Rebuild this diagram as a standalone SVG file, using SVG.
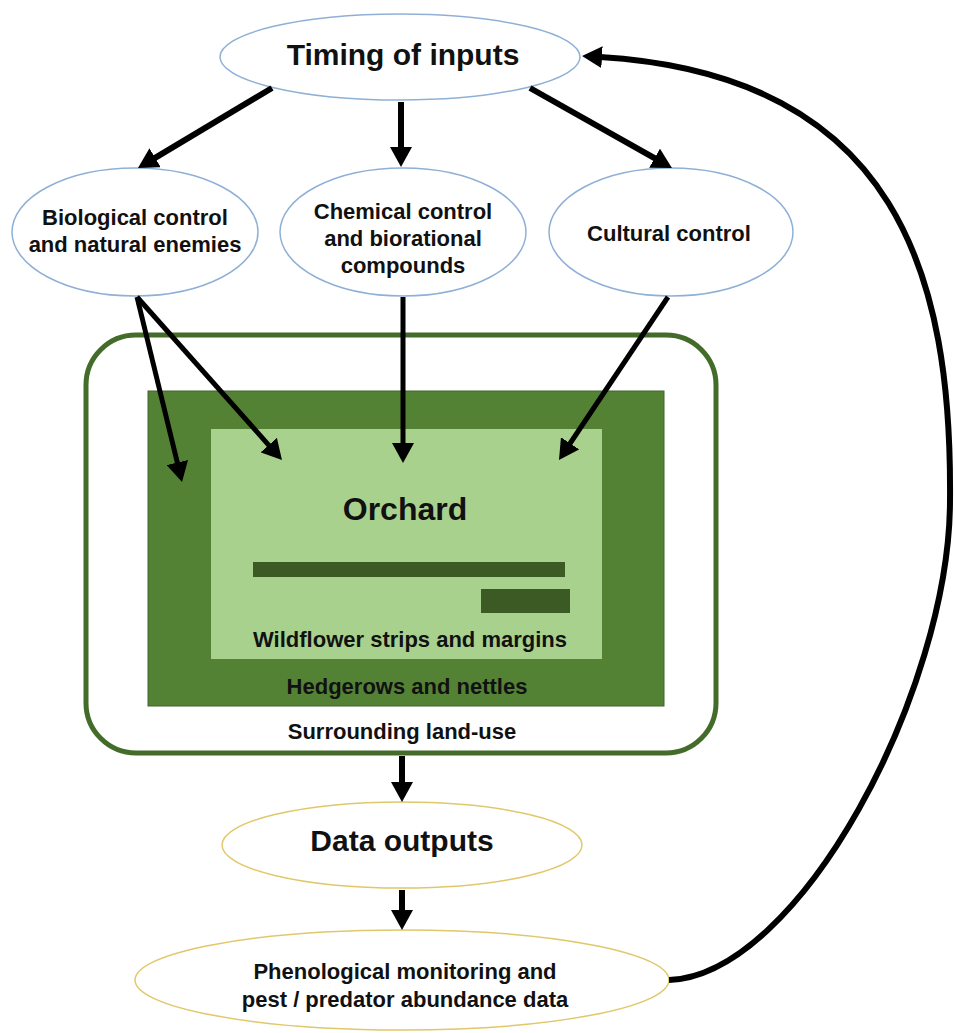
<svg xmlns="http://www.w3.org/2000/svg" width="955" height="1033" viewBox="0 0 955 1033">
<style>
  text { font-family: "Liberation Sans", Arial, sans-serif; font-weight: bold; fill: #111; text-anchor: middle; }
  .big { font-size: 30px; }
  .lbl { font-size: 22px; }
  .blue { fill: #fff; stroke: #8fb0d6; stroke-width: 1.5; }
  .gold { fill: #fff; stroke: #e0c86a; stroke-width: 1.5; }
  .conn { fill: none; stroke: #000; stroke-width: 6; marker-end: url(#ah); }
  .thin { stroke-width: 5; }
</style>
<defs>
  <marker id="ah" markerUnits="userSpaceOnUse" viewBox="0 0 20 22" refX="2" refY="11" markerWidth="20" markerHeight="22" orient="auto">
    <path d="M0,0 L20,11 L0,22 z" fill="#000"/>
  </marker>
</defs>
<rect width="955" height="1033" fill="#fff"/>

<g id="land-use">
  <rect x="86" y="335" width="630" height="418" rx="50" ry="50" fill="#fff" stroke="#436b29" stroke-width="5"/>
  <text class="lbl" x="402" y="739">Surrounding land-use</text>
</g>
<g id="hedgerows">
  <rect x="148" y="391" width="516" height="315" fill="#548235" stroke="#41652a" stroke-width="1"/>
  <text class="lbl" x="407" y="694">Hedgerows and nettles</text>
</g>
<g id="wildflower">
  <rect x="211" y="429" width="391" height="230" fill="#a9d18e"/>
  <rect x="253" y="562" width="312" height="15" fill="#3b5a24"/>
  <rect x="481" y="589" width="89" height="24" fill="#3b5a24"/>
  <text class="lbl" x="410" y="647">Wildflower strips and margins</text>
</g>
<g id="orchard">
  <text x="405" y="520" style="font-size:32px">Orchard</text>
</g>

<g id="timing">
  <ellipse class="blue" cx="400" cy="57" rx="180" ry="43"/>
  <text class="big" x="403" y="65">Timing of inputs</text>
</g>
<g id="biological">
  <ellipse class="blue" cx="135" cy="232" rx="123" ry="64"/>
  <text class="lbl" x="135" y="225">Biological control</text>
  <text class="lbl" x="135" y="252">and natural enemies</text>
</g>
<g id="chemical">
  <ellipse class="blue" cx="403" cy="232" rx="123" ry="64"/>
  <text class="lbl" x="403" y="219">Chemical control</text>
  <text class="lbl" x="403" y="246">and biorational</text>
  <text class="lbl" x="403" y="273">compounds</text>
</g>
<g id="cultural">
  <ellipse class="blue" cx="671" cy="232" rx="122" ry="64"/>
  <text class="lbl" x="669" y="241">Cultural control</text>
</g>
<g id="data-outputs">
  <ellipse class="gold" cx="402" cy="845" rx="180" ry="43"/>
  <text class="big" x="402" y="851">Data outputs</text>
</g>
<g id="phenological">
  <ellipse class="gold" cx="402" cy="980" rx="267" ry="50"/>
  <text class="lbl" x="405" y="979">Phenological monitoring and</text>
  <text class="lbl" x="405" y="1007">pest / predator abundance data</text>
</g>

<g id="connectors">
  <path class="conn" d="M272,88 L153.4,158.8"/>
  <path class="conn" d="M401,102 L401,149"/>
  <path class="conn" d="M530,88 L656.3,159.2"/>
  <path class="conn thin" d="M137,297 L177.8,464.5"/>
  <path class="conn thin" d="M137,297 L270,446.6"/>
  <path class="conn thin" d="M403,297 L403,445"/>
  <path class="conn thin" d="M668,297 L569,445"/>
  <path class="conn" d="M402,756 L402,784"/>
  <path class="conn" d="M402,890 L402,912"/>
  <path class="conn" d="M669,980 C800,975 950,690 950,500 C952,280 900,75 600,57"/>
</g>
</svg>
